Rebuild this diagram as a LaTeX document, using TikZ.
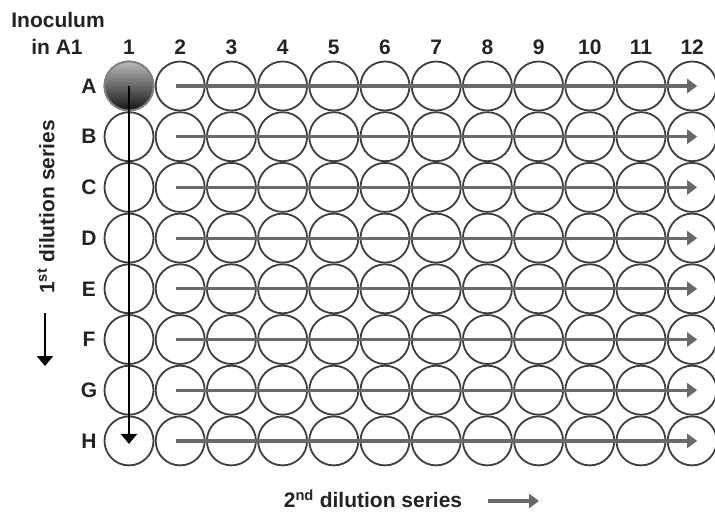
\documentclass[tikz,border=0pt]{standalone}
\usepackage{fontspec}
\setmainfont{Liberation Sans}
\usepackage{tikz}
\usetikzlibrary{arrows.meta,positioning,calc}
\definecolor{WellGray}{RGB}{62,62,62}
\definecolor{FlowGray}{RGB}{105,105,108}
\definecolor{InkDark}{RGB}{35,35,35}

\begin{document}
\begin{tikzpicture}[x=1pt,y=-1pt,>=Latex,
    well/.style={circle,draw=WellGray,line width=1.8pt,minimum size=49pt,inner sep=0pt},
    lab/.style={font=\fontsize{21}{25}\selectfont\bfseries,text=InkDark,inner sep=0pt},
    flow/.style={FlowGray,line width=3.2pt,-{Triangle[length=10pt,width=14pt]}},
    firstflow/.style={black,line width=2.8pt,-{Triangle[length=10pt,width=16pt]}}]
  \useasboundingbox (0,0) rectangle (715,514);
  % plate
  \foreach \r [count=\i] in {A,...,H} {
    \node[lab] (row-\r) at (89,{86+(\i-1)*50.7}) {\r};
    \foreach \c in {1,...,12}
      \node[well] (w-\r-\c) at ({129+(\c-1)*51.2},{86+(\i-1)*50.7}) {};
  }
  \foreach \c in {1,...,12}
    \node[lab] (col-\c) at ({129+(\c-1)*51.2},47) {\c};
  \node[well,shade,top color=gray!55,bottom color=black!92,draw=gray] at (w-A-1) {};
  % second dilution, along each row
  \foreach \r in {A,...,H}
    \draw[flow] ([xshift=-4pt]w-\r-2.center) -- ([xshift=5pt]w-\r-12.center);
  % first dilution, down column 1
  \draw[firstflow] (w-A-1.center) -- ([yshift=-3pt]w-H-1.center);
  \node[lab] (inoc) at (58,20) {Inoculum};
  \node[lab] (inA1) at (57,47) {in A1};
  \node[lab,rotate=90] (series1) at (46,207) {1\textsuperscript{st} dilution series};
  \coordinate (s1top) at (45,313);
  \coordinate (s1bot) at (45,366);
  \draw[firstflow] (s1top) -- (s1bot);
  \node[lab] (series2) at (373,499) {2\textsuperscript{nd} dilution series};
  \coordinate (s2left) at (488,501);
  \coordinate (s2right) at (539,501);
  \draw[flow] (s2left) -- (s2right);
\end{tikzpicture}
\end{document}
